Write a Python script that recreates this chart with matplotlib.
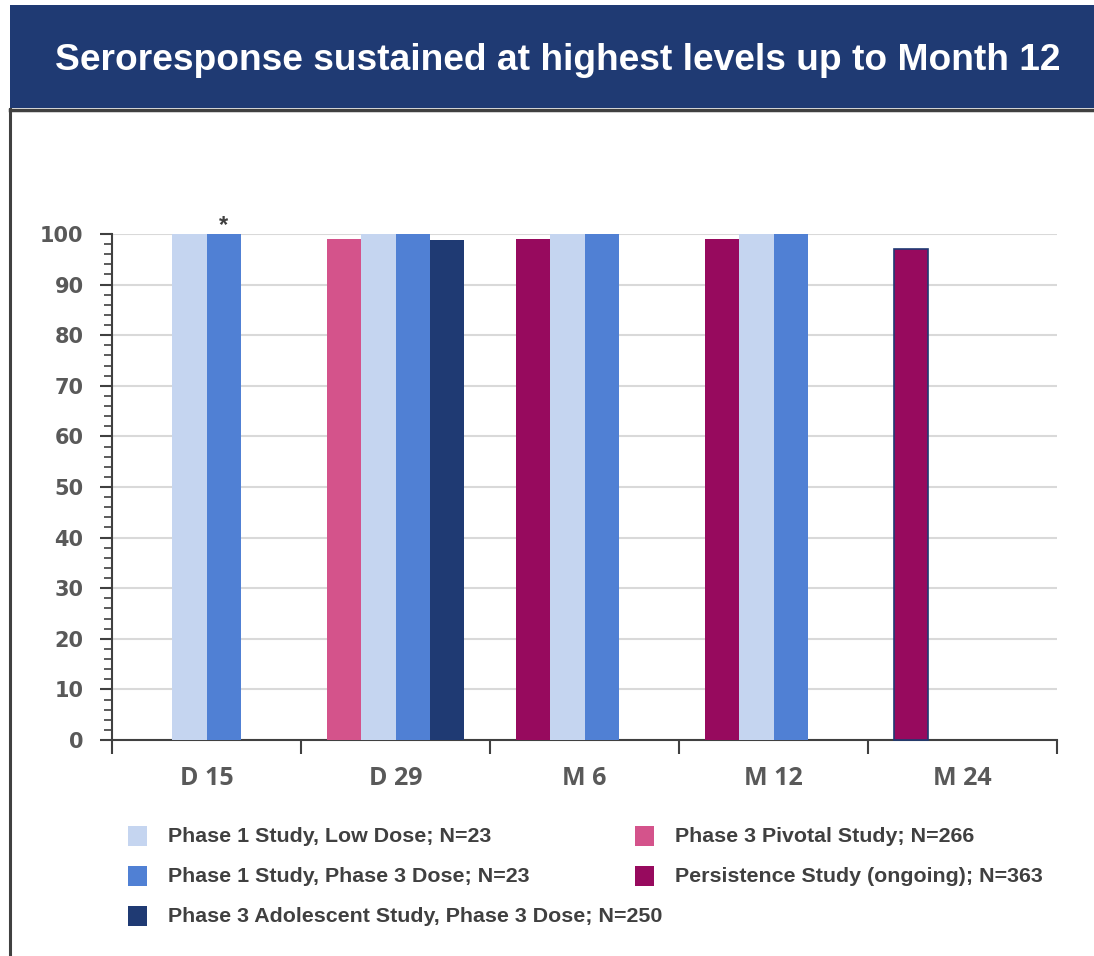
import numpy as np
import matplotlib
matplotlib.use("Agg")
import matplotlib.pyplot as plt
from matplotlib.patches import Rectangle
from matplotlib.ticker import MultipleLocator

# ---- data -------------------------------------------------------------
categories = ["D 15", "D 29", "M 6", "M 12", "M 24"]

series_names = [
    "Phase 1 Study, Low Dose; N=23",
    "Phase 1 Study, Phase 3 Dose; N=23",
    "Phase 3 Adolescent Study, Phase 3 Dose; N=250",
    "Phase 3 Pivotal Study; N=266",
    "Persistence Study (ongoing); N=363",
]
low_dose = [100, 100, 100, 100, np.nan]
phase3_dose = [100, 100, 100, 100, np.nan]
adolescent = [np.nan, 98.8, np.nan, np.nan, np.nan]
pivotal = [np.nan, 99, np.nan, np.nan, np.nan]
persistence = [np.nan, np.nan, 99, 99, 97]

series_values = [low_dose, phase3_dose, adolescent, pivotal, persistence]
series_colors = ["#C5D5F0", "#5080D4", "#1F3A73", "#D4538B", "#970A5E"]
# slot within each category cluster (pivotal and persistence share the first slot)
series_slot = [1, 2, 3, 0, 0]

title = "Seroresponse sustained at highest levels up to Month 12"

# ---- figure -----------------------------------------------------------
W, H = 1094, 956
DPI = 100
fig = plt.figure(figsize=(W / DPI, H / DPI), dpi=DPI)
fig.patch.set_facecolor("white")


def px(x, y):
    """pixel (from top-left) -> figure fraction"""
    return x / W, 1 - y / H


# title band
band = Rectangle(px(10, 108), (W - 10) / W, 103 / H, transform=fig.transFigure,
                 facecolor="#1F3A73", edgecolor="none", zorder=0)
fig.add_artist(band)
fig.text(*px(558, 60), title, color="white", fontsize=26.7, fontweight="bold",
         family="Liberation Sans", ha="center", va="center")

# frame lines under the band
fig.add_artist(plt.Line2D([10 / W, 1], [1 - 109.5 / H] * 2, transform=fig.transFigure,
                          color="#404040", lw=2.5))
fig.add_artist(plt.Line2D([10 / W] * 2, [0, 1 - 109 / H], transform=fig.transFigure,
                          color="#404040", lw=2.2))

# axes
ax_left, ax_right, ax_top, ax_bot = 112, 1057, 234, 740
ax = fig.add_axes([ax_left / W, 1 - ax_bot / H, (ax_right - ax_left) / W, (ax_bot - ax_top) / H])

n_cat = len(categories)
x = np.arange(n_cat) + 0.5
bar_w = 34.5 / 189
n_slots = 4

for name, vals, col, slot in zip(series_names, series_values, series_colors, series_slot):
    offs = (slot - (n_slots - 1) / 2) * bar_w
    vals = np.asarray(vals, dtype=float)
    mask = ~np.isnan(vals)
    bars = ax.bar(x[mask] + offs, vals[mask], width=bar_w, color=col, edgecolor="none",
                  zorder=3, clip_on=False)
    if name.startswith("Persistence"):
        # last persistence bar drawn with a thin dark outline
        bars[-1].set_edgecolor("#1F3A73")
        bars[-1].set_linewidth(1.2)

# asterisk above the Day 15 Phase 3 dose bar
ax.annotate("*", xy=(x[0] + (2 - 1.5) * bar_w, phase3_dose[0]), xytext=(0, -2.5),
            textcoords="offset points", ha="center", va="bottom", fontsize=17,
            fontweight="bold", color="#404040", family="Liberation Sans")

ax.set_xlim(0, n_cat)
ax.set_ylim(0, 100)

ax.yaxis.set_major_locator(MultipleLocator(10))
ax.yaxis.set_minor_locator(MultipleLocator(2))
ax.grid(axis="y", which="major", color="#D9D9D9", lw=1.5, zorder=0)
ax.set_axisbelow(True)

ax.set_xticks(np.arange(n_cat + 1))
ax.set_xticklabels([])
ax.set_xticks(x, minor=True)
ax.set_xticklabels(categories, minor=True)
ax.tick_params(axis="x", which="major", length=10, width=1.5, color="#404040", direction="out")
ax.tick_params(axis="x", which="minor", length=0, pad=19, labelsize=18, labelcolor="#595959")
ax.tick_params(axis="y", which="major", length=9, width=1.5, color="#404040",
               labelsize=15, labelcolor="#595959", pad=11.5)
ax.tick_params(axis="y", which="minor", length=6, width=1.2, color="#404040")

for lab in ax.get_yticklabels():
    lab.set_fontweight("bold")
    lab.set_family("DejaVu Sans")
for lab in ax.get_xticklabels(minor=True):
    lab.set_fontweight("bold")
    lab.set_family("Open Sans")

for side in ("top", "right"):
    ax.spines[side].set_visible(False)
for side in ("left", "bottom"):
    ax.spines[side].set_color("#404040")
    ax.spines[side].set_linewidth(1.5)

# legend: two columns, three rows
leg_cols = [(128, 168), (635, 675)]
leg_rows = [836, 876, 916]
for i, (name, col) in enumerate(zip(series_names, series_colors)):
    c, r = divmod(i, 3)
    sx, tx = leg_cols[c]
    sy = leg_rows[r]
    fig.add_artist(Rectangle(px(sx, sy + 10), 19 / W, 20 / H, transform=fig.transFigure,
                             facecolor=col, edgecolor="none"))
    fig.text(*px(tx, sy + 1), name, fontsize=15.4, fontweight="bold", color="#404040",
             family="Liberation Sans", ha="left", va="center")

fig.savefig("out.png", dpi=DPI)
